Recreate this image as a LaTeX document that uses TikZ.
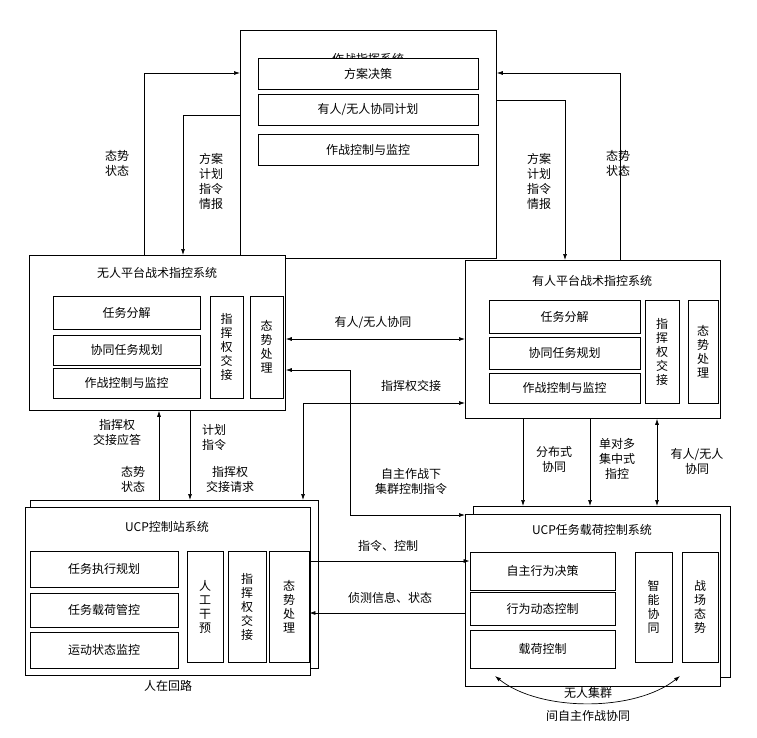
\documentclass[tikz,border=0pt]{standalone}
\usepackage{fontspec}
\setmainfont{Noto Sans CJK SC}
\usetikzlibrary{arrows.meta}
\begin{document}
\begin{tikzpicture}[x=1pt,y=-1pt,
  box/.style={draw,line width=0.8pt,fill=white},
  sb/.style={draw,line width=0.8pt,fill=white,font=\fontsize{12}{14}\selectfont,align=center,inner sep=0pt},
  lbl/.style={font=\fontsize{12}{15}\selectfont,align=center,inner sep=1pt},
  ar/.style={line width=0.7pt,-{Latex[length=6pt,width=4pt]}},
  dar/.style={line width=0.7pt,{Latex[length=6pt,width=4pt]}-{Latex[length=6pt,width=4pt]}}]
\useasboundingbox (0,0) rectangle (757,737);
% rectangles helper: node at center with size
\newcommand{\bx}[6]{\node[#6,minimum width=#3-#1,minimum height=#4-#2] (#5) at ({(#1+#3)/2},{(#2+#4)/2}) {};}
% top
\node[box,minimum width=256,minimum height=228,anchor=north west] (top) at (240,30) {};
\node[lbl] (toptitle) at (368,59) {作战指挥系统};
\node[sb,minimum width=220,minimum height=31] (t1) at (368,74) {方案决策};
\node[sb,minimum width=220,minimum height=31] (t2) at (368,110) {有人/无人协同计划};
\node[sb,minimum width=220,minimum height=31] (t3) at (368,150) {作战控制与监控};
% left tactical
\node[box,minimum width=256,minimum height=155,anchor=north west] (L) at (29,255) {};
\node[lbl] (Lt) at (157,273) {无人平台战术指控系统};
\node[sb,minimum width=147,minimum height=33] (L1) at (126.5,313) {任务分解};
\node[sb,minimum width=147,minimum height=30] (L2) at (126.5,350) {协同任务规划};
\node[sb,minimum width=147,minimum height=30] (L3) at (126.5,383) {作战控制与监控};
\node[sb,minimum width=33,minimum height=102] (L4) at (226.5,347) {指\\挥\\权\\交\\接};
\node[sb,minimum width=33,minimum height=102] (L5) at (266.5,347) {态\\势\\处\\理};
% right tactical
\node[box,minimum width=255,minimum height=158,anchor=north west] (R) at (465,260) {};
\node[lbl] (Rt) at (592,281) {有人平台战术指控系统};
\node[sb,minimum width=151,minimum height=33] (R1) at (564.5,316.5) {任务分解};
\node[sb,minimum width=151,minimum height=32] (R2) at (564.5,353) {协同任务规划};
\node[sb,minimum width=151,minimum height=30] (R3) at (564.5,388) {作战控制与监控};
\node[sb,minimum width=34,minimum height=103] (R4) at (662,351.5) {指\\挥\\权\\交\\接};
\node[sb,minimum width=30,minimum height=103] (R5) at (703,351.5) {态\\势\\处\\理};
% UCP left
\node[box,minimum width=288,minimum height=168,anchor=north west] (UL2) at (30,500) {};
\node[box,minimum width=285,minimum height=168,anchor=north west] (UL) at (25,507) {};
\node[lbl] (ULt) at (167,527) {UCP控制站系统};
\node[sb,minimum width=148,minimum height=36] (U1) at (104,569) {任务执行规划};
\node[sb,minimum width=148,minimum height=34] (U2) at (104,610) {任务载荷管控};
\node[sb,minimum width=148,minimum height=36] (U3) at (104,650) {运动状态监控};
\node[sb,minimum width=36,minimum height=111] (U4) at (205,606.5) {人\\工\\干\\预};
\node[sb,minimum width=38,minimum height=111] (U5) at (247,606.5) {指\\挥\\权\\交\\接};
\node[sb,minimum width=40,minimum height=111] (U6) at (289,606.5) {态\\势\\处\\理};
% UCP right
\node[box,minimum width=257,minimum height=171,anchor=north west] (UR2) at (473,506) {};
\node[box,minimum width=255,minimum height=172,anchor=north west] (UR) at (465,514) {};
\node[lbl] (URt) at (592,530) {UCP任务载荷控制系统};
\node[sb,minimum width=145,minimum height=38] (V1) at (542.5,571) {自主行为决策};
\node[sb,minimum width=145,minimum height=33] (V2) at (542.5,608.5) {行为动态控制};
\node[sb,minimum width=145,minimum height=38] (V3) at (542.5,649) {载荷控制};
\node[sb,minimum width=37,minimum height=110] (V4) at (653.5,607) {智\\能\\协\\同};
\node[sb,minimum width=36,minimum height=110] (V5) at (700,607) {战\\场\\态\\势};
% coordinates
\coordinate (a1) at (144,73); \coordinate (a2) at (183,115);
\coordinate (b1) at (620,73); \coordinate (b2) at (565,100);
\coordinate (c1) at (350,370); \coordinate (c2) at (350,515);
\coordinate (d1) at (303,403);
% top connections
\draw[ar] (L.north -| a1) -- (a1) -- (a1 -| top.west);
\draw[ar] (a2 -| top.west) -- (a2) -- (a2 |- L.north);
\draw[ar] (R.north -| b1) -- (b1) -- (b1 -| top.east);
\draw[ar] (b2 -| top.east) -- (b2) -- (b2 |- R.north);
\node[lbl] (la1) at (117,163) {态势\\状态};
\node[lbl] (la2) at (211,181) {方案\\计划\\指令\\情报};
\node[lbl] (lb2) at (539,181) {方案\\计划\\指令\\情报};
\node[lbl] (lb1) at (618,163) {态势\\状态};
% middle
\draw[dar] (L.east |- 0,339) -- (R.west |- 0,339);
\node[lbl] (lm) at (373,323) {有人/无人协同};
\draw[dar] (c1 -| L.east) -- (c1) -- (c2) -- (c2 -| UR.west);
\node[lbl] (lc) at (411,481) {自主作战下\\集群控制指令};
\draw[dar] (d1 |- UL2.north) -- (d1) -- (d1 -| R.west);
\node[lbl] (ld) at (411,386) {指挥权交接};
% left down
\draw[ar] (159,0 |- UL2.north) -- (159,0 |- L.south);
\draw[ar] (190,0 |- L.south) -- (190,0 |- UL2.north);
\node[lbl] (le1) at (117,432) {指挥权\\交接应答};
\node[lbl] (le2) at (133,479) {态势\\状态};
\node[lbl] (le3) at (214,437) {计划\\指令};
\node[lbl] (le4) at (230,479) {指挥权\\交接请求};
% right down
\draw[ar] (523,0 |- R.south) -- (523,0 |- UR2.north);
\draw[ar] (590,0 |- R.south) -- (590,0 |- UR2.north);
\draw[dar] (657,0 |- R.south) -- (657,0 |- UR2.north);
\node[lbl] (lf1) at (554,459) {分布式\\协同};
\node[lbl] (lf2) at (617,459) {单对多\\集中式\\指控};
\node[lbl] (lf3) at (697,461) {有人/无人\\协同};
% UCP links
\draw[ar] (U6.east |- 0,561) -- (V1.west |- 0,561);
\draw[ar] (UR.west |- 0,613) -- (U6.east |- 0,613);
\node[lbl] (lg1) at (388,546) {指令、控制};
\node[lbl] (lg2) at (390,598) {侦测信息、状态};
\node[lbl] (lh) at (168,686) {人在回路};
\coordinate (e1) at (495,676); \coordinate (e2) at (680,676);
\draw[dar] (e1) .. controls (540,712) and (635,712) .. (e2);
\node[lbl,fill=white,inner sep=0pt] (li1) at (588,693) {无人集群};
\node[lbl] (li2) at (588,716) {间自主作战协同};
\end{tikzpicture}
\end{document}
